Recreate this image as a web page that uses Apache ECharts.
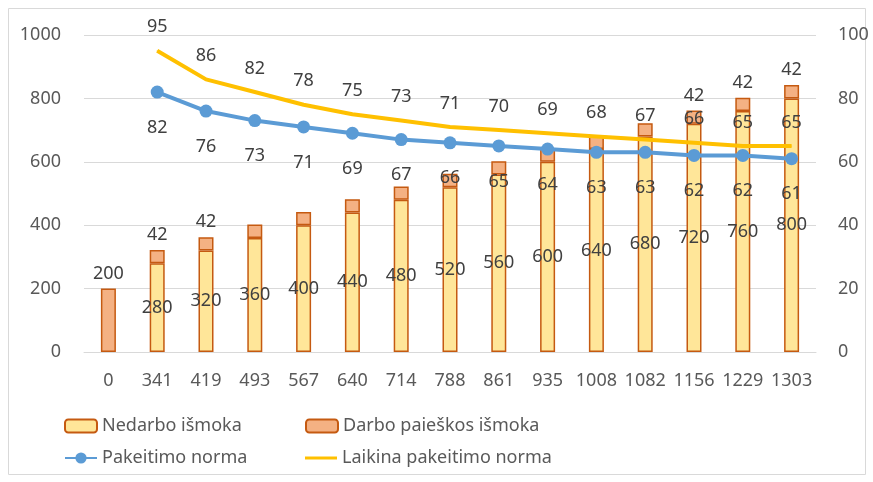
<!DOCTYPE html>
<html>
<head>
<meta charset="utf-8">
<script src="https://cdn.jsdelivr.net/npm/echarts@6/dist/echarts.min.js"></script>
<style>
  html, body { margin: 0; padding: 0; background: #fff; }
  #main { width: 873px; height: 482px; }
</style>
</head>
<body>
<div id="main"></div>
<script>
var categories = ['0', '341', '419', '493', '567', '640', '714', '788', '861', '935', '1008', '1082', '1156', '1229', '1303'];
var nedarbo = [null, 280, 320, 360, 400, 440, 480, 520, 560, 600, 640, 680, 720, 760, 800];
var darbo = [200, 42, 42, 42, 42, 42, 42, 42, 42, 42, 42, 42, 42, 42, 42];
var darboLabelShown = [true, true, true, false, false, false, false, false, false, false, false, false, true, true, true];
var pakeitimo = [null, 82, 76, 73, 71, 69, 67, 66, 65, 64, 63, 63, 62, 62, 61];
var laikina = [null, 95, 86, 82, 78, 75, 73, 71, 70, 69, 68, 67, 66, 65, 65];

var font = 'Noto Sans';
var chart = echarts.init(document.getElementById('main'));

var labelStyle = { fontFamily: font, fontSize: 18, color: '#404040' };
var legendText = { fontFamily: font, fontSize: 18, color: '#595959' };

var option = {
  animation: false,
  textStyle: { fontFamily: font },
  graphic: [{
    type: 'rect',
    shape: { x: 8.5, y: 8.5, width: 857, height: 466 },
    style: { fill: 'none', stroke: '#d9d9d9', lineWidth: 1 },
    silent: true
  }],
  grid: { left: 84, right: 57, top: 35, bottom: 130 },
  legend: [
    { left: 64, top: 417, padding: 0, itemWidth: 32, itemHeight: 13, textStyle: legendText, data: ['Nedarbo išmoka'] },
    { left: 305, top: 417, padding: 0, itemWidth: 32, itemHeight: 13, textStyle: legendText, data: ['Darbo paieškos išmoka'] },
    { left: 64, top: 449, padding: 0, itemWidth: 32, itemHeight: 14, textStyle: legendText, data: ['Pakeitimo norma'] },
    { left: 305, top: 449, padding: 0, itemWidth: 32, itemHeight: 14, textStyle: legendText,
      data: [{ name: 'Laikina pakeitimo norma', icon: 'path://M0,6 L32,6 L32,9 L0,9 Z' }] }
  ],
  xAxis: {
    type: 'category',
    data: categories,
    axisLine: { lineStyle: { color: '#d9d9d9', width: 1 } },
    axisTick: { show: false },
    axisLabel: { interval: 0, fontFamily: font, fontSize: 18, color: '#595959', margin: 20 }
  },
  yAxis: [
    {
      type: 'value', min: 0, max: 1000, interval: 200,
      axisLine: { show: false }, axisTick: { show: false },
      axisLabel: { fontFamily: font, fontSize: 18, color: '#595959', margin: 23,
        formatter: function (v) { return String(v); } },
      splitLine: { lineStyle: { color: '#d9d9d9', width: 1 } }
    },
    {
      type: 'value', min: 0, max: 100, interval: 20,
      axisLine: { show: false }, axisTick: { show: false },
      axisLabel: { fontFamily: font, fontSize: 18, color: '#595959', margin: 22 },
      splitLine: { show: false }
    }
  ],
  series: [
    {
      name: 'Nedarbo išmoka',
      type: 'bar',
      stack: 'total',
      barWidth: 15,
      data: nedarbo,
      itemStyle: { color: '#FFE699', borderColor: '#C55A11', borderWidth: 1.5 },
      label: Object.assign({ show: true, position: 'inside' }, labelStyle)
    },
    {
      name: 'Darbo paieškos išmoka',
      type: 'bar',
      stack: 'total',
      barWidth: 15,
      data: darbo.map(function (v, i) {
        return { value: v, label: { show: darboLabelShown[i] } };
      }),
      itemStyle: { color: '#F4B183', borderColor: '#C55A11', borderWidth: 1.5 },
      label: Object.assign({ show: true, position: 'top', distance: 6 }, labelStyle)
    },
    {
      name: 'Pakeitimo norma',
      type: 'line',
      yAxisIndex: 1,
      data: pakeitimo,
      symbol: 'circle',
      symbolSize: 13,
      lineStyle: { color: '#5B9BD5', width: 4 },
      itemStyle: { color: '#5B9BD5' },
      label: Object.assign({ show: true, position: 'bottom', distance: 20 }, labelStyle)
    },
    {
      name: 'Laikina pakeitimo norma',
      type: 'line',
      yAxisIndex: 1,
      data: laikina,
      symbol: 'circle',
      symbolSize: 1,
      lineStyle: { color: '#FFC000', width: 4 },
      itemStyle: { color: '#FFC000' },
      label: Object.assign({ show: true, position: 'top', distance: 14 }, labelStyle)
    }
  ]
};

chart.setOption(option);
</script>
</body>
</html>
